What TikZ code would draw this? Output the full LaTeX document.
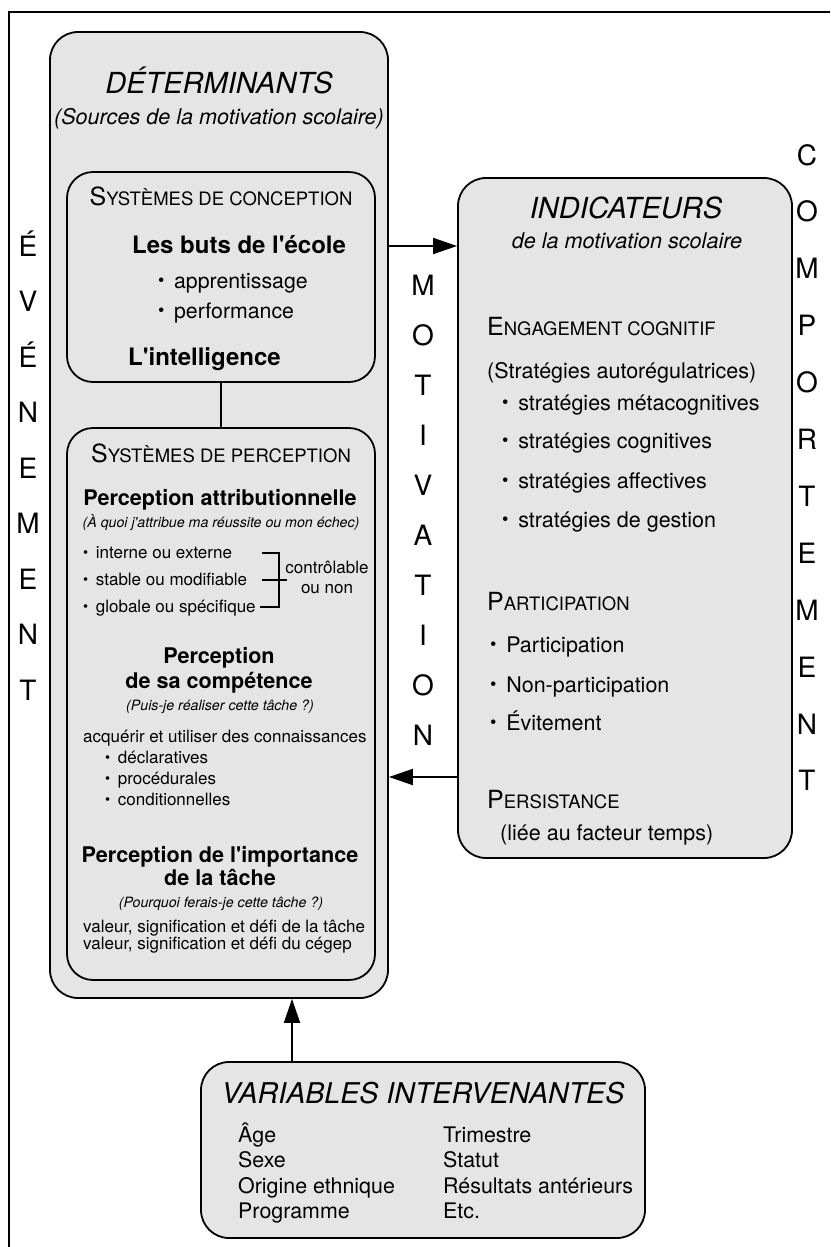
\documentclass[tikz,border=0pt]{standalone}
\usepackage{fontspec}
\setmainfont{TeX Gyre Heros}[Ligatures=TeXOff]
\usetikzlibrary{arrows.meta}
\definecolor{boxfill}{gray}{0.9}
\newcommand{\fs}[1]{\fontsize{#1}{#1}\selectfont}
\newcommand{\bul}{\raisebox{0.05em}{\scalebox{0.85}{\textbullet}}\hspace{0.45em}}
\begin{document}
\begin{tikzpicture}[x=1pt,y=-1pt,
  box/.style={draw, line width=1.8pt, fill=boxfill, rounded corners=28pt, inner sep=0pt},
  t/.style={anchor=base, inner sep=0pt},
  tl/.style={anchor=base west, inner sep=0pt},
  arr/.style={line width=1.8pt, -{Triangle[length=24pt,width=16pt]}},
  vl/.style={anchor=base, inner sep=0pt, font=\fs{28}},
  brk/.style={line width=1.2pt}]
\useasboundingbox (0,0) rectangle (830,1247);
\draw[line width=1.5pt] (9,1247) -- (9,12) -- (830,12);

% boxes
\node[box, minimum width=338pt, minimum height=966pt] (det) at (219,515) {};
\node[box, minimum width=308pt, minimum height=210pt, rounded corners=26pt] (conc) at (221,277) {};
\node[box, minimum width=308pt, minimum height=552pt, rounded corners=26pt] (perc) at (221,704) {};
\node[box, minimum width=334pt, minimum height=680pt] (ind) at (625,518) {};
\node[box, minimum width=444pt, minimum height=176pt] (var) at (423,1150) {};

% connectors
\coordinate (yA) at (0,246);
\coordinate (yB) at (0,777);
\coordinate (xC) at (292,0);
\draw[line width=1.8pt] (conc.south) -- (perc.north);
\draw[arr] (det.east |- yA) -- (ind.west |- yA);
\draw[arr] (ind.west |- yB) -- (det.east |- yB);
\draw[arr] (var.north -| xC) -- (det.south -| xC);

% DETERMINANTS
\node[t, font=\fs{29}\itshape] (dt) at (219,93) {DÉTERMINANTS};
\node[t, font=\fs{21.6}\itshape] (ds) at (219,124) {(Sources de la motivation scolaire)};

% conception
\node[t] (ct) at (221,205) {\fs{25}S\fs{18.5}YSTÈMES DE CONCEPTION};
\node[tl, font=\fs{24}\bfseries] (cb) at (132,253) {Les buts de l'école};
\node[tl, font=\fs{21.3}] (c1) at (158,288) {\bul apprentissage};
\node[tl, font=\fs{21.3}] (c2) at (158,318) {\bul performance};
\node[tl, font=\fs{24}\bfseries] (ci) at (128,365) {L'intelligence};

% perception
\node[t] (pt) at (221,462) {\fs{25}S\fs{18.5}YSTÈMES DE PERCEPTION};
\node[t, font=\fs{21.6}\bfseries] (pa) at (220,505) {Perception attributionnelle};
\node[t, font=\fs{14.2}\itshape] (pq) at (221,527) {(À quoi j'attribue ma réussite ou mon échec)};
\node[tl, font=\fs{17}] (p1) at (83,558) {\bul interne ou externe};
\node[tl, font=\fs{17}] (p2) at (83,585) {\bul stable ou modifiable};
\node[tl, font=\fs{17}] (p3) at (83,612) {\bul globale ou spécifique};
\draw[brk] (262,553) -- (279,553) -- (279,607) -- (260,607);
\draw[brk] (262,580) -- (287,580);
\node[t, font=\fs{17}] (pc1) at (327,573) {contrôlable};
\node[t, font=\fs{17}] (pc2) at (327,593) {ou non};

\node[t, font=\fs{21.6}\bfseries] (pp1) at (219,663) {Perception};
\node[t, font=\fs{21.6}\bfseries] (pp2) at (219,688) {de sa compétence};
\node[t, font=\fs{14.2}\itshape] (pp3) at (220,710) {(Puis-je réaliser cette tâche ?)};
\node[tl, font=\fs{17}] (pk) at (83,742) {acquérir et utiliser des connaissances};
\node[tl, font=\fs{17}] (pk1) at (105,763) {\bul déclaratives};
\node[tl, font=\fs{17}] (pk2) at (105,784) {\bul procédurales};
\node[tl, font=\fs{17}] (pk3) at (105,805) {\bul conditionnelles};

\node[t, font=\fs{21.6}\bfseries] (pi1) at (220,862) {Perception de l'importance};
\node[t, font=\fs{21.6}\bfseries] (pi2) at (220,885) {de la tâche};
\node[t, font=\fs{14.2}\itshape] (pi3) at (221,907) {(Pourquoi ferais-je cette tâche ?)};
\node[tl, font=\fs{17}] (pv1) at (83,932) {valeur, signification et défi de la tâche};
\node[tl, font=\fs{17}] (pv2) at (83,949) {valeur, signification et défi du cégep};

% indicateurs
\node[t, font=\fs{29}\itshape] (it) at (626,218) {INDICATEURS};
\node[t, font=\fs{21.6}\itshape] (is) at (627,248) {de la motivation scolaire};
\node[tl] (ie) at (487,335) {\fs{25}E\fs{18.5}NGAGEMENT COGNITIF};
\node[tl, font=\fs{21.5}] (ia) at (487,378) {(Stratégies autorégulatrices)};
\node[tl, font=\fs{21.5}] (i1) at (502,410) {\bul stratégies métacognitives};
\node[tl, font=\fs{21.5}] (i2) at (502,448) {\bul stratégies cognitives};
\node[tl, font=\fs{21.5}] (i3) at (502,488) {\bul stratégies affectives};
\node[tl, font=\fs{21.5}] (i4) at (502,527) {\bul stratégies de gestion};
\node[tl] (ip) at (487,610) {\fs{25}P\fs{18.5}ARTICIPATION};
\node[tl, font=\fs{21.5}] (ip1) at (490,652) {\bul Participation};
\node[tl, font=\fs{21.5}] (ip2) at (490,692) {\bul Non-participation};
\node[tl, font=\fs{21.5}] (ip3) at (490,730) {\bul Évitement};
\node[tl] (ir) at (487,808) {\fs{25}P\fs{18.5}ERSISTANCE};
\node[tl, font=\fs{21.5}] (ir1) at (500,840) {(liée au facteur temps)};

% variables
\node[t, font=\fs{28.6}\itshape] (vt) at (423,1103) {VARIABLES INTERVENANTES};
\node[tl, font=\fs{21.4}] (va1) at (238,1142) {Âge};
\node[tl, font=\fs{21.4}] (va2) at (238,1167) {Sexe};
\node[tl, font=\fs{21.4}] (va3) at (238,1193) {Origine ethnique};
\node[tl, font=\fs{21.4}] (va4) at (238,1218) {Programme};
\node[tl, font=\fs{21.4}] (vb1) at (443,1142) {Trimestre};
\node[tl, font=\fs{21.4}] (vb2) at (443,1167) {Statut};
\node[tl, font=\fs{21.4}] (vb3) at (443,1193) {Résultats antérieurs};
\node[tl, font=\fs{21.4}] (vb4) at (443,1218) {Etc.};

% vertical words
\foreach \l [count=\i from 0] in {É,V,É,N,E,M,E,N,T}
  \node[vl] (ev\i) at (28,256+55.5*\i) {\l};
\foreach \l [count=\i from 0] in {M,O,T,I,V,A,T,I,O,N}
  \node[vl] (mo\i) at (423,295+50*\i) {\l};
\foreach \l [count=\i from 0] in {C,O,M,P,O,R,T,E,M,E,N,T}
  \node[vl] (co\i) at (807,165+56.9*\i) {\l};
\end{tikzpicture}
\end{document}
